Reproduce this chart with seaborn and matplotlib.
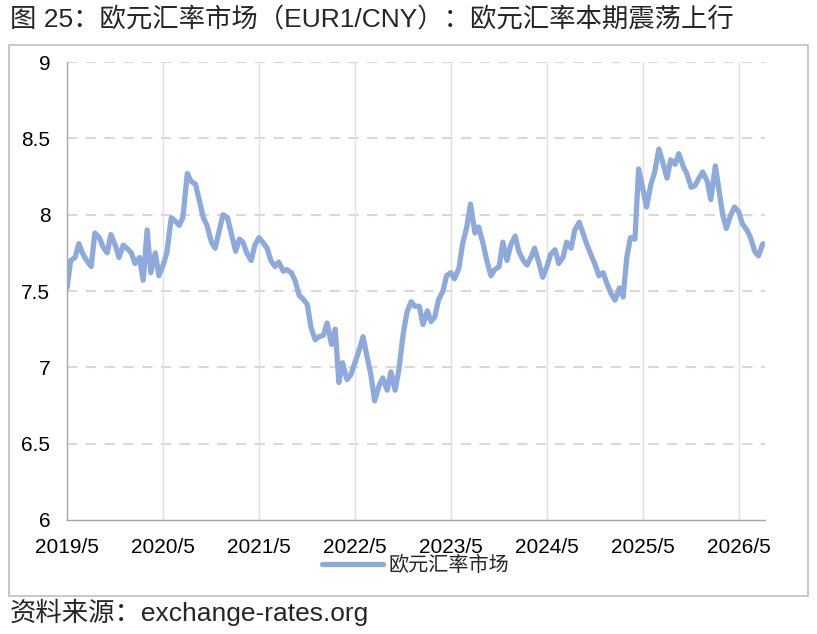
import numpy as np
import pandas as pd
import seaborn as sns
import matplotlib.pyplot as plt
from matplotlib.patches import Rectangle

# EUR1/CNY, semi-monthly readings, each block runs May -> next April
eur_2019 = [7.52, 7.70, 7.72, 7.81, 7.74, 7.70, 7.66, 7.88, 7.85, 7.79, 7.75, 7.87,
            7.80, 7.72, 7.80, 7.78, 7.75, 7.68, 7.72, 7.57, 7.90, 7.62, 7.75, 7.60]
eur_2020 = [7.67, 7.75, 7.98, 7.96, 7.93, 7.98, 8.27, 8.22, 8.20, 8.10, 7.98, 7.93,
            7.82, 7.78, 7.90, 8.00, 7.98, 7.88, 7.76, 7.84, 7.82, 7.75, 7.70, 7.80]
eur_2021 = [7.85, 7.82, 7.78, 7.70, 7.66, 7.69, 7.63, 7.64, 7.62, 7.57, 7.47, 7.45,
            7.41, 7.26, 7.18, 7.20, 7.21, 7.29, 7.15, 7.25, 6.90, 7.03, 6.92, 6.95]
eur_2022 = [7.03, 7.10, 7.20, 7.08, 6.95, 6.78, 6.88, 6.93, 6.85, 6.97, 6.85, 6.98,
            7.22, 7.36, 7.43, 7.40, 7.40, 7.28, 7.37, 7.30, 7.33, 7.44, 7.50, 7.60]
eur_2023 = [7.62, 7.58, 7.65, 7.81, 7.92, 8.07, 7.88, 7.92, 7.81, 7.70, 7.60, 7.64,
            7.66, 7.82, 7.70, 7.80, 7.86, 7.76, 7.70, 7.67, 7.72, 7.78, 7.68, 7.59]
eur_2024 = [7.66, 7.74, 7.77, 7.68, 7.72, 7.82, 7.78, 7.90, 7.95, 7.88, 7.80, 7.74,
            7.67, 7.60, 7.62, 7.55, 7.48, 7.44, 7.52, 7.46, 7.72, 7.85, 7.84, 8.30]
eur_2025 = [8.17, 8.05, 8.20, 8.28, 8.43, 8.35, 8.24, 8.36, 8.33, 8.40, 8.32, 8.27,
            8.18, 8.19, 8.24, 8.28, 8.22, 8.10, 8.32, 8.16, 8.00, 7.91, 8.00, 8.05]
eur_2026 = [8.02, 7.94, 7.90, 7.85, 7.76, 7.73, 7.81]

values = eur_2019 + eur_2020 + eur_2021 + eur_2022 + eur_2023 + eur_2024 + eur_2025 + eur_2026
dates = pd.date_range('2019-05-01', periods=len(values), freq='SMS')
df = pd.DataFrame({'date': dates, '欧元汇率市场': values})

y_ticks = [6, 6.5, 7, 7.5, 8, 8.5, 9]
x_ticks = pd.date_range('2019-05-01', '2026-05-01', freq='12MS')

sns.set_style('white')
plt.rcParams['font.family'] = ['Liberation Sans', 'Noto Sans CJK SC', 'DejaVu Sans']

fig = plt.figure(figsize=(8.17, 6.34), dpi=100)
ax = fig.add_axes([0.082, 0.180, 0.854, 0.722])

sns.lineplot(data=df, x='date', y='欧元汇率市场', ax=ax, color='#8eaadc',
             linewidth=3.8, label='欧元汇率市场')
ax.lines[0].set_solid_joinstyle('round')

ax.set_ylim(6, 9)
ax.set_yticks(y_ticks)
ax.set_yticklabels([f'{t:g}' for t in y_ticks])
ax.set_xlim(pd.Timestamp('2019-05-01'), pd.Timestamp('2026-08-08'))
ax.set_xticks(x_ticks)
ax.set_xticklabels([f'{d.year}/{d.month}' for d in x_ticks])

ax.set_xlabel('')
ax.set_ylabel('')
ax.tick_params(axis='both', labelsize=15, labelcolor='#000000', color='#a6a6a6',
               direction='out', length=5, width=1)
ax.tick_params(axis='x', pad=8)
ax.tick_params(axis='y', pad=7)

ax.grid(False)
for t in y_ticks[1:]:
    ax.axhline(t, color='#d9d9d9', lw=1.5, ls=(0, (5, 4)), zorder=0)
for d in x_ticks[1:]:
    ax.axvline(d, color='#e0e0e0', lw=1.0, zorder=0)

for s in ['top', 'right']:
    ax.spines[s].set_visible(False)
for s in ['left', 'bottom']:
    ax.spines[s].set_color('#a6a6a6')
    ax.spines[s].set_linewidth(1.0)

leg = ax.legend(loc='center', bbox_to_anchor=(0.5, -0.100), frameon=False,
                fontsize=14.5, handlelength=3.0, handletextpad=0.3)

fig.patches.append(Rectangle((0.011, 0.060), 0.978, 0.869, transform=fig.transFigure,
                             fill=False, edgecolor='#bfbfbf', lw=1.2))

fig.text(0.012, 0.968, '图 25：欧元汇率市场（EUR1/CNY）：欧元汇率本期震荡上行',
         fontsize=19, va='center', ha='left')
fig.text(0.012, 0.034, '资料来源：exchange-rates.org', fontsize=19, va='center', ha='left')

fig.savefig('out.png', dpi=100)
